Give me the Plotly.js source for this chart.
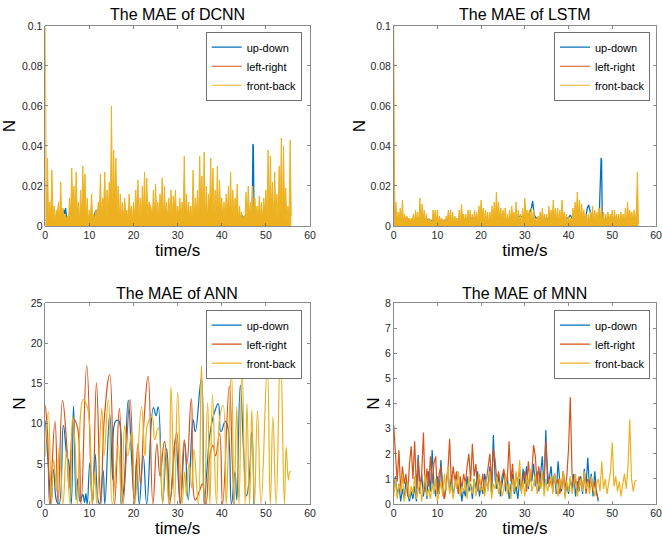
<!DOCTYPE html>
<html><head><meta charset="utf-8">
<script src="https://cdn.plot.ly/plotly-3.0.1.min.js"></script>
<style>html,body{margin:0;padding:0;background:#fff}#chart{width:662px;height:540px}</style>
</head><body><div id="chart"></div>
<script>
// ---------- DCNN (dense, sampled every 0.25 s) ----------
const dcnnFrontBack = [
.100,.003,.034,.002,.012,.005,.028,.004,.010,.002,.008,.006,.012,.003,.022,.001,.009,.004,.006,.003,
.005,.002,.014,.005,.029,.008,.020,.003,.027,.006,.012,.002,.018,.004,.030,.009,.026,.003,.014,.002,
.008,.005,.016,.002,.006,.003,.008,.004,.012,.006,.026,.003,.014,.011,.027,.002,.018,.004,.022,.007,
.060,.003,.038,.009,.034,.005,.020,.002,.016,.004,.012,.003,.014,.006,.008,.002,.016,.005,.010,.003,
.012,.004,.018,.008,.023,.003,.014,.002,.020,.006,.027,.004,.024,.003,.012,.010,.009,.002,.018,.005,
.021,.003,.012,.004,.016,.007,.024,.002,.020,.005,.012,.003,.014,.004,.018,.002,.015,.008,.018,.003,
.010,.005,.014,.002,.012,.004,.035,.006,.016,.003,.012,.003,.010,.002,.028,.004,.014,.005,.018,.003,
.035,.007,.025,.002,.037,.004,.020,.003,.016,.009,.034,.002,.029,.005,.018,.003,.030,.004,.023,.006,
.014,.002,.012,.003,.016,.005,.020,.004,.027,.002,.018,.003,.014,.006,.021,.002,.010,.004,.007,.002,
.005,.003,.017,.002,.020,.005,.012,.004,.020,.003,.014,.006,.010,.002,.015,.004,.012,.003,.014,.007,
.018,.005,.038,.002,.035,.009,.022,.003,.027,.004,.016,.002,.030,.006,.044,.003,.040,.004,.019,.002,
.010,.003,.043,.005];
const dcnnUpDownT = [0,1,2,3,3.8,4.2,4.4,4.6,4.8,5.1,6,8,10,10.7,10.9,11.3,11.6,12,14,16,18,20,22,24,26,28,30,32,34,36,38,40,42,44,44.7,45,45.3,46,46.9,47.05,47.15,47.3,48,50,52,54,55.5];
const dcnnUpDown = [.003,.002,.004,.003,.004,.008,.006,.009,.005,.003,.002,.003,.002,.004,.002,.007,.008,.003,.002,.004,.003,.002,.004,.003,.002,.003,.004,.002,.003,.002,.004,.003,.002,.004,.005,.003,.005,.003,.006,.041,.040,.008,.003,.002,.003,.002,.003];
const dcnnLeftRight = [
.001,.0008,.0012,.0006,.0009,.0015,.0007,.001,.0012,.0008,.0006,.0011,.0009,.0013,.0018,.0022,.0012,.0009,.0007,.001,
.0008,.0012,.0015,.001,.0007,.0009,.0011,.0008,.001,.0012,.0009,.0007,.001,.0008,.0011,.0009,.0012,.0008,.001,.0014,
.0009,.0007,.001,.0008,.0006,.0009,.0011,.0008,.001,.0007,.0009,.0012,.0008,.001,.0009,.0007];

// ---------- LSTM ----------
const lstmFrontBack = [
.100,.002,.012,.001,.007,.003,.009,.002,.013,.001,.006,.002,.005,.003,.004,.001,.004,.002,.006,.002,
.008,.003,.007,.001,.014,.002,.011,.004,.008,.002,.006,.001,.004,.002,.003,.001,.008,.003,.008,.002,
.008,.001,.005,.002,.004,.002,.003,.001,.005,.002,.008,.003,.008,.002,.007,.001,.005,.002,.004,.001,
.008,.002,.011,.004,.006,.002,.006,.001,.008,.003,.008,.002,.006,.001,.008,.003,.007,.002,.010,.004,
.013,.005,.009,.002,.008,.003,.007,.001,.007,.002,.010,.003,.012,.004,.017,.006,.012,.003,.009,.002,
.008,.003,.009,.002,.006,.001,.008,.003,.010,.004,.007,.002,.012,.003,.008,.002,.006,.001,.009,.003,
.014,.005,.008,.002,.008,.003,.009,.002,.008,.003,.004,.001,.005,.002,.007,.002,.009,.003,.006,.002,
.006,.001,.010,.003,.008,.002,.013,.004,.009,.003,.009,.002,.008,.003,.013,.005,.007,.002,.006,.001,
.005,.002,.004,.001,.009,.003,.012,.004,.017,.006,.013,.003,.011,.002,.008,.002,.006,.001,.006,.002,
.007,.003,.010,.002,.008,.003,.007,.002,.009,.003,.010,.002,.007,.001,.006,.002,.007,.002,.006,.003,
.008,.002,.008,.003,.006,.002,.006,.001,.007,.003,.006,.002,.009,.002,.012,.004,.008,.003,.007,.002,
.008,.003,.007,.027,.001];
const lstmUpDownT = [0,1,2,3,4,5,6,8,10,12,14,16,18,20,22,24,26,28,29,30,31,31.5,31.8,32.1,32.5,34,36,38,40,40.4,40.7,41,42,43,44,44.3,44.6,44.9,45.3,46,47,47.45,47.55,47.7,48,50,52,54,55.5];
const lstmUpDown = [.004,.003,.003,.004,.002,.003,.004,.003,.002,.003,.002,.003,.004,.003,.002,.004,.003,.004,.005,.004,.006,.009,.0125,.006,.004,.003,.004,.003,.004,.0055,.004,.003,.004,.003,.005,.009,.0105,.008,.004,.003,.004,.034,.033,.006,.003,.004,.003,.004,.003];
const lstmLeftRightT = [0,0.3,0.7,1.5,3,4.5,6,8,10,11.5,12,13,15,17,19,21,23,25,27,28.5,29,31,33,35,37,39,41,43,45,47,49,51,53,55.5];
const lstmLeftRight = [.004,.0095,.003,.002,.001,.0015,.001,.0012,.0008,.001,.003,.001,.0012,.0009,.001,.0012,.0008,.001,.0011,.001,.0025,.0009,.001,.0012,.0008,.001,.0011,.0009,.001,.0008,.001,.0009,.0011,.001];

// ---------- ANN (peaks and troughs) ----------
const annUpDownT = [0,0.9,1.3,1.9,2.6,3.1,4.1,4.9,5.3,5.9,6.4,7,7.4,7.9,8.5,8.9,9.2,9.5,10.1,10.7,11.3,11.9,12.3,13.1,13.5,14.6,15.3,15.9,16.6,17.2,17.8,18.8,19.6,20.2,20.7,21.3,22.2,23,24.5,25.1,25.6,26.6,27.5,28.3,29.5,30.6,31.6,32.4,33.5,34,35.4,36,36.6,37.4,38.4,39.2,39.8,40.8,41.4,42.2,43,43.4,44.2,45,45.6,46.2,46.8,47.3];
const annUpDown = [10.4,3,0,4.3,0.3,0,9.8,6,5.3,0,12.2,0.5,3.2,0.3,1.2,0.2,1.3,0,5.1,0.3,6.2,0.7,0,4.2,0,11.2,3,10.3,10.4,0,2,12.9,5.3,0.4,5.6,0,6,0,12,11,12.1,0.3,6.9,0.5,8.2,0,7.6,0.5,10.5,9,15.7,0,4,9,11.5,12.5,9,10.3,9.5,0,4,0.5,14.8,6,1,3,9,0];
const annLeftRightT = [0,0.5,1,2.2,2.9,3.9,4.9,5.4,6.5,7.3,8.1,9.4,10.7,11.6,12.6,13.4,14.6,15.7,16.8,17.6,19.2,20.2,21,21.6,22.4,23.3,24.4,25.3,26,27,27.6,28.2,29.8,30.6,31.5,32.1,33.1,34,35,35.6,36.4,37.3,38,38.6,39.5,40.2,41.7,42.4,42.8];
const annLeftRight = [12.3,9,0,10.3,0,12.9,7,2,10.5,9.5,0,17.2,0,15.1,0,10.8,16.1,0,11.9,0,13,0,7.5,2.5,10.6,15.9,0,7.5,3.5,7.8,5,0,9,0,8,5,13.1,0.5,1.7,2.5,0,6,7.3,6,8.8,0,14.7,5,0];
const annFrontBackT = [0,0.7,1.4,1.9,2.6,3.2,4,4.8,5.6,6.2,6.8,7.3,8.6,9.6,10.6,11.2,11.7,12.8,13.3,14.3,15.2,16.5,17.3,18,18.7,19.6,20.3,21.8,22.6,23.2,24.2,24.8,25.6,26.6,27.2,28,28.5,29.3,30,31,31.6,32,32.6,33.2,33.7,34.7,35.4,36,36.8,37.3,37.9,38.8,39.6,40.3,41,41.5,42.2,42.8,43.4,43.9,44.6,45.3,45.7,46.3,46.8,47.4,48.1,48.9,50.3,51,51.6,52.3,53.3,54.2,54.6,55.1,55.4,55.7];
const annFrontBack = [5.9,11.5,0,5.5,1.7,7.1,0,6.5,0,11,6.7,0,13,11.9,0,4,0,11.9,6,13,0,7.4,0,9.8,6,9,0,12.1,6,10,10.9,8,9.5,0,7,0,14.6,0,13.9,0,4,1,5.1,2,6.8,0,17.3,0,12.6,0,13.6,0,11,12.3,0,7,16.3,0,12.1,0,16.9,0,12.5,0,11.7,0,11.6,0,16.9,0,10.9,0,18.8,0,7.1,3,4,4];

// ---------- MNN (sampled every 0.4 s) ----------
const mnnUpDown = [
0.5,1.1,0.3,0.8,0.1,0.6,0.2,0.9,0.4,0.1,0.5,
0.2,0.7,0.1,1.95,0.6,1.2,0.3,0.9,0.2,1.3,
0.5,2.15,0.8,0.3,1.1,0.4,1.75,0.6,0.2,0.9,
1.4,0.5,1.0,0.3,0.8,1.25,0.4,0.9,0.1,0.6,
0.3,1.1,0.5,0.8,0.2,1.0,0.6,1.3,0.3,0.7,
0.4,1.2,0.8,0.7,1.5,0.4,2.75,1.0,0.6,1.2,
0.3,0.9,1.3,0.5,1.1,0.2,0.8,1.2,0.4,0.7,
0.2,1.0,0.5,1.4,0.8,1.5,0.6,1.2,0.9,1.6,
0.7,1.3,0.5,1.1,1.9,0.6,2.95,0.8,1.0,1.5,
0.6,1.2,0.4,1.7,0.9,0.5,1.3,0.3,0.8,0.4,
1.0,0.6,1.2,0.3,0.9,0.5,1.1,0.4,1.4,0.7,
1.85,0.6,1.2,0.3,1.3,0.5,0.1];
const mnnLeftRight = [
3.15,1.8,0.9,2.15,0.5,1.5,0.8,1.2,0.3,1.6,2.3,
1.0,2.5,0.6,1.8,0.4,1.2,2.85,0.5,1.4,0.7,
1.9,0.8,1.6,1.9,0.4,1.2,1.5,0.6,0.2,0.9,
1.3,2.6,0.7,1.5,0.9,1.3,0.4,1.1,0.6,1.2,
0.8,1.5,2.0,0.9,2.4,1.1,1.6,0.5,1.0,0.7,
1.2,0.4,1.0,1.6,2.0,0.8,2.2,1.75,0.9,1.3,
0.6,1.1,1.4,0.7,1.0,2.5,0.9,1.6,0.5,1.2,
0.8,1.4,0.6,1.0,1.3,0.5,1.7,0.9,1.2,2.35,
1.9,0.8,1.5,0.6,1.2,1.0,2.5,1.3,0.7,1.0,
0.5,1.2,0.8,1.0,0.4,0.8,1.3,0.6,1.1,2.2,
4.25,1.2,0.7,1.0,0.5,1.1,0.8,0.6,1.2,0.4,
1.0,0.7,1.1,0.5,0.9,0.4,0.2];
const mnnFrontBack = [
0.3,1.0,0.2,0.8,0.5,1.2,0.1,0.6,0.9,0.2,0.7,
0.4,1.1,0.2,0.5,0.9,0.1,0.7,1.2,0.3,0.6,
0.2,0.8,0.4,1.0,0.1,0.6,0.9,0.3,1.2,0.5,
1.5,0.4,0.8,0.2,1.0,0.6,1.3,0.3,0.7,0.5,
0.9,0.2,1.1,0.6,0.4,1.0,0.3,0.8,1.2,0.5,
0.7,0.3,1.0,0.5,1.3,0.2,0.8,0.6,1.1,0.4,
0.9,0.3,0.6,1.2,0.4,0.8,0.2,1.0,0.5,1.3,
0.6,1.75,0.4,0.9,0.3,1.1,0.7,1.4,0.5,0.8,
1.2,0.4,0.9,0.6,1.3,0.3,1.0,0.5,0.8,1.1,
0.4,1.2,0.7,0.3,1.0,0.6,1.3,0.2,0.9,0.5,
1.1,0.4,0.8,1.2,0.3,0.7,1.0,0.5,1.3,0.6,
0.9,0.4,1.1,0.7,0.3,0.8,1.0,0.5,1.7,0.6,
1.0,0.4,0.9,1.3,2.45,0.7,1.1,0.5,0.9,0.3,
0.8,1.2,0.6,1.5,3.38,1.0,0.5,0.9,0.96];

const seriesNames = ['up-down','left-right','front-back'];
const panelTitles = ['The MAE of DCNN','The MAE of LSTM','The MAE of ANN','The MAE of MNN'];
const xTickVals = [0,10,20,30,40,50,60];

const C = ['#0072BD','#D95319','#EDB120'];
const FONT = "'Liberation Sans', Arial, Helvetica, sans-serif";

function tr(name, ci, ax, leg, opts, w, shape, fillOnly){
  const t = Object.assign({type:'scatter', mode:'lines', name:name,
    xaxis:'x'+(ax===1?'':ax), yaxis:'y'+(ax===1?'':ax),
    legend: leg, line:{color:C[ci], width:w, shape:shape||'linear'}, hoverinfo:'skip'}, opts);
  if(shape==='spline') t.line.smoothing = 1.3;
  if(fillOnly){ t.fill='tozeroy'; t.fillcolor=C[ci]; t.line.width=0; t.showlegend=false; }
  return t;
}
const data = [
  tr(seriesNames[0],0,1,'legend',{x:dcnnUpDownT,y:dcnnUpDown},1.3),
  tr(seriesNames[1],1,1,'legend',{x0:0,dx:1,y:dcnnLeftRight},1),
  tr(seriesNames[2],2,1,'legend',{x0:0,dx:0.25,y:dcnnFrontBack},0,null,true),
  tr(seriesNames[2],2,1,'legend',{x0:0,dx:0.25,y:dcnnFrontBack},1),
  tr(seriesNames[0],0,2,'legend2',{x:lstmUpDownT,y:lstmUpDown},1.3),
  tr(seriesNames[1],1,2,'legend2',{x:lstmLeftRightT,y:lstmLeftRight},1),
  tr(seriesNames[2],2,2,'legend2',{x0:0,dx:0.25,y:lstmFrontBack},0,null,true),
  tr(seriesNames[2],2,2,'legend2',{x0:0,dx:0.25,y:lstmFrontBack},1),
  tr(seriesNames[0],0,3,'legend3',{x:annUpDownT,y:annUpDown},1.2,'spline'),
  tr(seriesNames[1],1,3,'legend3',{x:annLeftRightT,y:annLeftRight},1.2,'spline'),
  tr(seriesNames[2],2,3,'legend3',{x:annFrontBackT,y:annFrontBack},1.2,'spline'),
  tr(seriesNames[0],0,4,'legend4',{x0:0,dx:0.4,y:mnnUpDown},1.2),
  tr(seriesNames[1],1,4,'legend4',{x0:0,dx:0.4,y:mnnLeftRight},1.2),
  tr(seriesNames[2],2,4,'legend4',{x0:0,dx:0.4,y:mnnFrontBack},1.2)
];

function ax(extra){ return Object.assign({
  showline:true, mirror:'ticks', linecolor:'#5a5a5a', linewidth:0.7,
  ticks:'inside', ticklen:3, tickwidth:0.7, tickcolor:'#5a5a5a',
  showgrid:false, zeroline:false, automargin:false, fixedrange:true,
  tickfont:{family:FONT,size:10.5,color:'#262626'}
}, extra); }
function xax(dom, anc){ return ax({domain:dom, anchor:anc, range:[0,60], tickvals:xTickVals,
  title:{text:'time/s', font:{family:FONT,size:17,color:'#000'}, standoff:0}}); }
function yax(dom, anc, rng, dt, so){ return ax({domain:dom, anchor:anc, range:rng, dtick:dt, tick0:0,
  title:{text:'N', font:{family:FONT,size:17,color:'#000'}, standoff:so}}); }

const XL=[0.0684,0.4683], XR=[0.5947,0.9909], YT=[0.5815,0.9519], YB=[0.0667,0.4383];
function leg(xr, yt){ return {x:xr, xanchor:'right', y:yt, yanchor:'top', bgcolor:'#fff',
  bordercolor:'#333', borderwidth:0.7, tracegroupgap:0,
  font:{family:FONT,size:11,color:'#000'}}; }

const layout = {
  width:662, height:540, margin:{l:0,r:0,t:0,b:0},
  paper_bgcolor:'#fff', plot_bgcolor:'#fff', font:{family:FONT},
  showlegend:true,
  xaxis:xax(XL,'y'), yaxis:yax(YT,'x',[0,0.1],0.02,2),
  xaxis2:xax(XR,'y2'), yaxis2:yax(YT,'x2',[0,0.1],0.02,0),
  xaxis3:xax(XL,'y3'), yaxis3:yax(YB,'x3',[0,25],5,0),
  xaxis4:xax(XR,'y4'), yaxis4:yax(YB,'x4',[0,8],1,0),
  legend:leg(0.4562,0.9407), legend2:leg(0.9823,0.9407),
  legend3:leg(0.4562,0.4259), legend4:leg(0.9823,0.4259),
  annotations:[
    [0.2676,0.9735],[0.7929,0.9735],[0.2676,0.4556],[0.7929,0.4556]
  ].map((p,i)=>({text:panelTitles[i], x:p[0], y:p[1], xref:'paper', yref:'paper',
    xanchor:'center', yanchor:'middle', showarrow:false,
    font:{family:FONT,size:16,color:'#000'}}))
};
Plotly.newPlot('chart', data, layout, {displayModeBar:false, staticPlot:true});
</script></body></html>
